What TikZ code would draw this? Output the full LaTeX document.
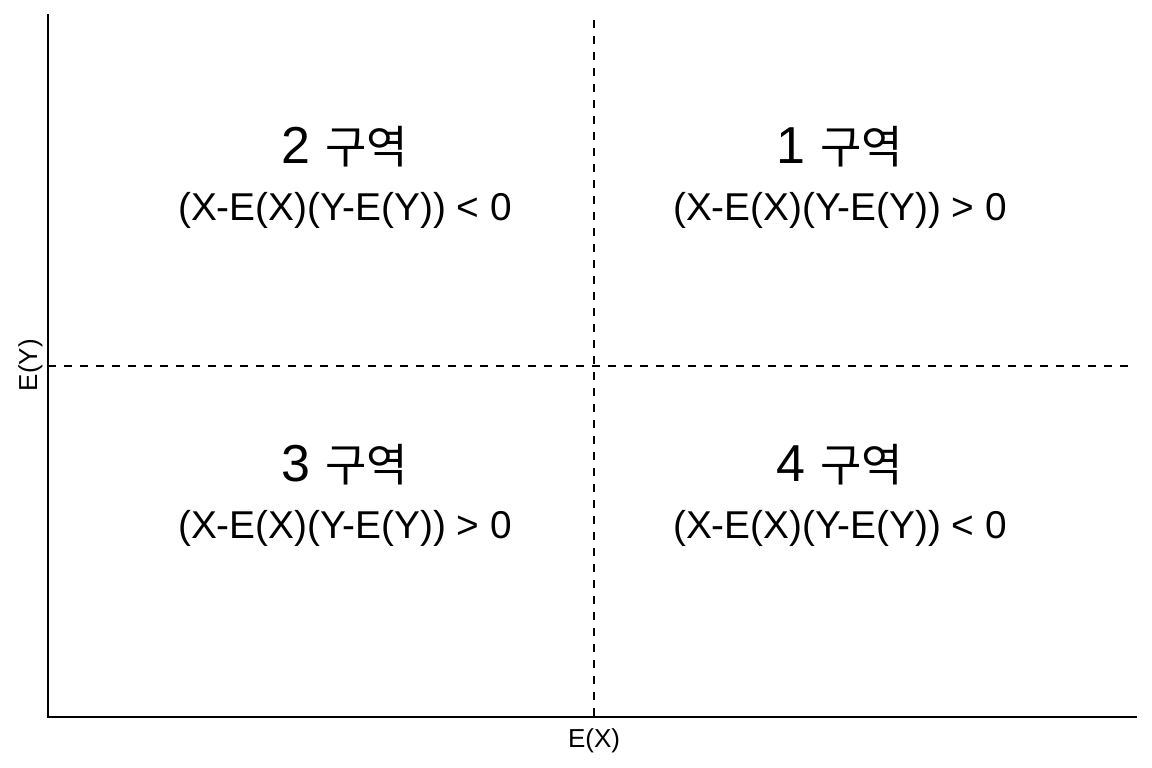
\documentclass[tikz,border=0pt]{standalone}
\usepackage{fontspec}
\setmainfont{Liberation Sans}
\newfontfamily\kr{Noto Sans CJK KR}
\begin{document}
\begin{tikzpicture}[x=1pt, y=-1pt,
    zone/.style={anchor=base, inner sep=0pt, font=\fontsize{52}{52}\selectfont},
    sign/.style={anchor=base, inner sep=0pt, font=\fontsize{38.8}{38.8}\selectfont},
    lab/.style={anchor=base, inner sep=0pt, font=\fontsize{26}{26}\selectfont},
    guide/.style={line width=2pt, dash pattern=on 8pt off 8pt}]
\useasboundingbox (0,0) rectangle (1152,768);
    % axes
    \draw[line width=2pt](48,14)--(48,717)--(1137,717);
    \draw[guide](48,366)--(1130,366);
    \draw[guide](594,20)--(594,717);
    \node[lab] (ex) at (594,747) {E(X)};
    \node[lab, rotate=90] (ey) at (37,365) {E(Y)};
% quadrants
\foreach \n/\x/\y/\s in {1/840/163/>, 2/345/163/<, 3/345/481/>, 4/840/481/<}
{
    \node[zone] (z\n) at (\x,\y) {\n\ {\kr\fontsize{45}{45}\selectfont 구역}};
    \node[sign] (s\n) at (\x,\y+57) {(X-E(X)(Y-E(Y))\ \s\ 0};
}

\end{tikzpicture}
\end{document}
